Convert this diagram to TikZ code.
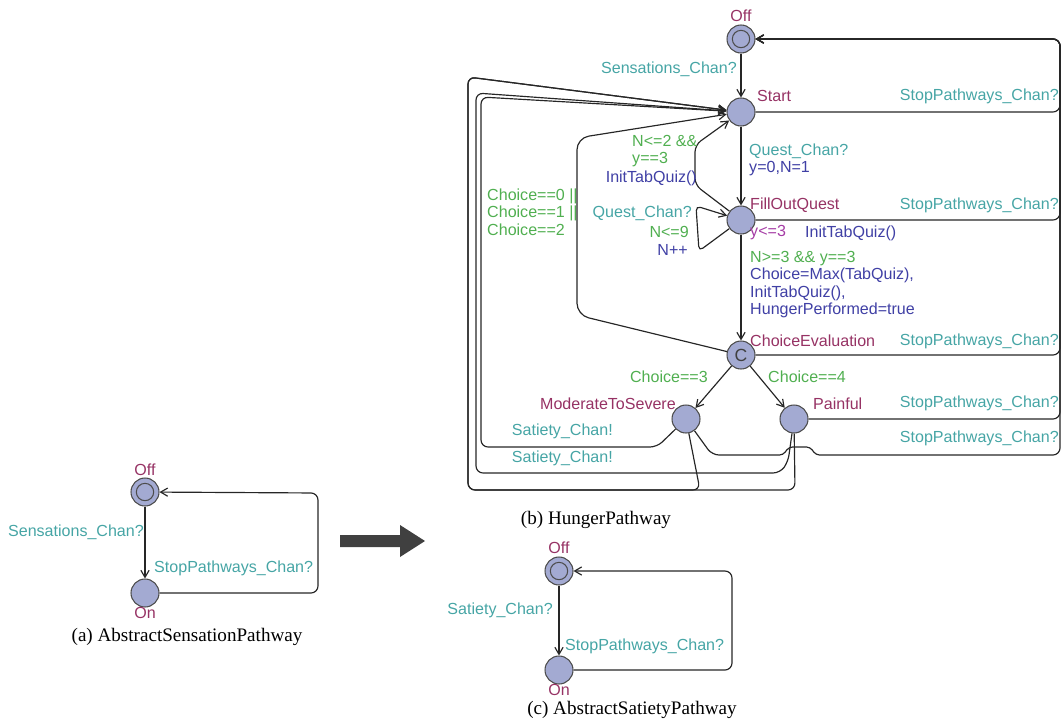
\documentclass[tikz,border=0pt]{standalone}
\usepackage{fontspec}
\setmainfont{Liberation Serif}
\setsansfont{Liberation Sans}
\usetikzlibrary{positioning, arrows.meta}

\definecolor{locname}{RGB}{150,50,100}
\definecolor{syncteal}{RGB}{70,165,165}
\definecolor{guardgreen}{RGB}{80,175,80}
\definecolor{updateblue}{RGB}{64,64,165}
\definecolor{invpurple}{RGB}{165,60,165}
\definecolor{statefill}{RGB}{163,170,210}

\begin{document}
\begin{tikzpicture}[x=0.03cm, y=-0.03cm,
    >={Straight Barb[length=6pt, width=7pt]},
    state/.style={circle, draw=black!70, line width=0.9pt, fill=statefill, text=black!75,
        minimum size=0.84cm, inner sep=0pt, font=\sffamily\fontsize{15}{15}\selectfont},
    init/.style={state, path picture={\draw[black!70, line width=0.9pt]
        (path picture bounding box.center) circle (0.26cm);}},
    edge/.style={->, draw=black!85, line width=1pt, rounded corners=6pt},
    lbl/.style={inner sep=0pt, font=\sffamily\fontsize{13.7}{15}\selectfont},
    location/.style={lbl, text=locname},
    sync/.style={lbl, text=syncteal},
    guard/.style={lbl, text=guardgreen},
    update/.style={lbl, text=updateblue},
    inv/.style={lbl, text=invpurple},
    caption/.style={inner sep=0pt, font=\fontsize{16.3}{18}\selectfont}
]
\useasboundingbox (0,0) rectangle (1062,721);

% (a) abstract sensation pathway
\node (aOff) [init] at (145,492) {};
\node (aOn) [state] at (145,593) {};
\node (taOff) [location, above=0.05cm of aOff] {Off};
\node (taOn) [location, below=0pt of aOn] {On};
\draw [edge] (aOff) -- (aOn);
\draw [edge] (aOn) -- (318,593) -- (318,493) -- (aOff);
\node (saSens) [sync, anchor=east] at (144,532) {Sensations\_Chan?};
\node (saStop) [sync, anchor=west] at (154,568) {StopPathways\_Chan?};
\node (capA) [caption] at (187,637) {(a) AbstractSensationPathway};

% the big arrow
\fill [black!75] (340,535) -- (400,535) -- (400,525) -- (425,541) -- (400,557)
    -- (400,547) -- (340,547) -- cycle;

% (b) hunger pathway
\node (Off) [init] at (741,39) {};
\node (Start) [state] at (741,112) {};
\node (Fill) [state] at (741,220) {};
\node (ChoiceEval) [state] at (741,355) {C};
\node (Moderate) [state] at (686,419) {};
\node (Painful) [state] at (794,419) {};

\node (tOff) [location, above=0.08cm of Off] {Off};
\node (tStart) [location, anchor=west] at (757,96) {Start};
\node (tFill) [location, anchor=west] at (750,205) {FillOutQuest};
\node (tChoiceEval) [location, anchor=west] at (750,341) {ChoiceEvaluation};
\node (tModerate) [location, anchor=east] at (676,404) {ModerateToSevere};
\node (tPainful) [location, anchor=west] at (813,404) {Painful};

\draw [edge] (Off) -- (Start);
\draw [edge] (Start) -- (Fill);
\draw [edge] (Fill) -- (ChoiceEval);
\draw [edge] (ChoiceEval) -- (Moderate);
\draw [edge] (ChoiceEval) -- (Painful);
% stop edges back to Off
\draw [edge] (Start) -- (1060,112) -- (1060,39) -- (Off);
\draw [edge] (Fill) -- (1060,220) -- (1060,39) -- (Off);
\draw [edge] (ChoiceEval) -- (1060,355) -- (1060,39) -- (Off);
\draw [edge] (Painful) -- (1060,419) -- (1060,39) -- (Off);
\draw [edge] (Moderate) -- (712,455) [rounded corners=3pt] -- (783,455) -- (789,447) -- (810,447)
    -- (816,455) [rounded corners=6pt] -- (1060,455) -- (1060,39) -- (Off);
% edges back to Start
\draw [edge] (Fill) -- (695,185) -- (695,145) -- (Start);
\draw [edge, rounded corners=4pt] (Fill) -- (699,251) -- (696,206) -- (Fill);
\draw [edge, rounded corners=10pt] (ChoiceEval) -- (577,315) -- (577,138) -- (Start);
\draw [edge] (Moderate) -- (657,447) -- (481,447) -- (481,97) -- (Start);
\draw [edge] (Painful) -- (788,462) -- (780,473) -- (476,473) -- (476,93) -- (Start);
\draw [edge] (Moderate) -- (700,490) -- (468,490) -- (468,77) -- (Start);
\draw [edge] (Painful) -- (795,490) -- (468,490) -- (468,77) -- (Start);

\node (sSensations) [sync, anchor=east] at (737,69) {Sensations\_Chan?};
\node (sStop1) [sync, anchor=east] at (1059,96) {StopPathways\_Chan?};
\node (sQuest) [sync, anchor=west] at (749,151) {Quest\_Chan?};
\node (uQuest) [update, anchor=west] at (749,169) {y=0,N=1};
\node (sStop2) [sync, anchor=east] at (1059,205) {StopPathways\_Chan?};
\node (iFill) [inv, anchor=west] at (750,233) {y<=3};
\node (uInit) [update, anchor=west] at (805,233) {InitTabQuiz()};
\node (gEval) [guard, anchor=west] at (750,259) {N>=3 \&\& y==3};
\node (uEval) [update, anchor=west, align=left] at (750,293)
    {Choice=Max(TabQuiz),\\InitTabQuiz(),\\HungerPerformed=true};
\node (sStop3) [sync, anchor=east] at (1059,341) {StopPathways\_Chan?};
\node (gLoop) [guard, anchor=west, align=left] at (632,151) {N<=2 \&\&\\y==3};
\node (uLoop) [update, anchor=east] at (697,178) {InitTabQuiz()};
\node (sQuestLoop) [sync, anchor=east] at (692,213) {Quest\_Chan?};
\node (gQuestLoop) [guard, anchor=east] at (689,232) {N<=9};
\node (uQuestLoop) [update, anchor=east] at (688,250) {N++};
\node (gBack) [guard, anchor=west, align=left] at (487,212)
    {Choice==0 ||\\Choice==1 ||\\Choice==2};
\node (gThree) [guard, anchor=east] at (708,377) {Choice==3};
\node (gFour) [guard, anchor=west] at (768,377) {Choice==4};
\node (sStop4) [sync, anchor=east] at (1059,403) {StopPathways\_Chan?};
\node (sStop5) [sync, anchor=east] at (1059,438) {StopPathways\_Chan?};
\node (sSat1) [sync, anchor=east] at (613,431) {Satiety\_Chan!};
\node (sSat2) [sync, anchor=east] at (613,458) {Satiety\_Chan!};
\node (capB) [caption] at (596,520) {(b) HungerPathway};

% (c) abstract satiety pathway
\node (cOff) [init] at (559,571) {};
\node (cOn) [state] at (559,670) {};
\node (tcOff) [location, above=0.08cm of cOff] {Off};
\node (tcOn) [location, below=0pt of cOn] {On};
\draw [edge] (cOff) -- (cOn);
\draw [edge] (cOn) -- (732,670) -- (732,571) -- (cOff);
\node (scSat) [sync, anchor=east] at (553,610) {Satiety\_Chan?};
\node (scStop) [sync, anchor=west] at (565,646) {StopPathways\_Chan?};
\node (capC) [caption] at (632,710) {(c) AbstractSatietyPathway};
\end{tikzpicture}
\end{document}
